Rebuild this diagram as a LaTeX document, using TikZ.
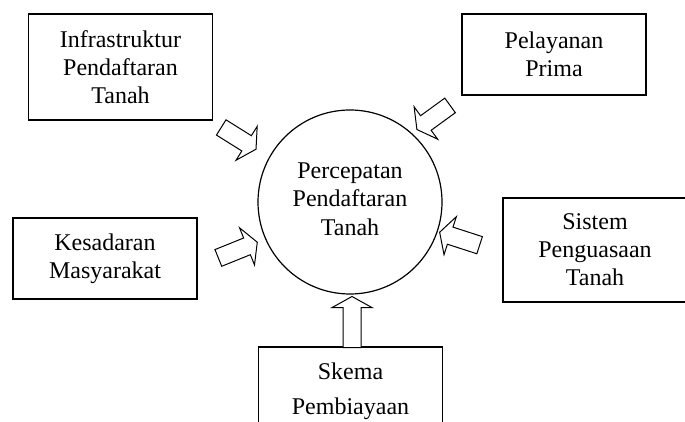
\documentclass[tikz,border=0pt]{standalone}
\usepackage{fontspec}
\setmainfont{Liberation Serif}
\usepackage{tikz}
\usetikzlibrary{
    arrows.meta,
    shapes.arrows,
    positioning
}
\tikzset{
    factorbox/.style={draw, line width=0.7pt, rectangle, align=center,
        minimum width=92pt, inner sep=0pt, font=\fontsize{12}{14}\selectfont},
    goalcircle/.style={draw, line width=0.6pt, circle, align=center,
        minimum size=92pt, inner sep=0pt, font=\fontsize{12}{14.3}\selectfont},
    blockarrow/.style={draw, line width=0.5pt, fill=white, single arrow,
        inner xsep=0pt, inner ysep=4.25pt, minimum width=0pt,
        single arrow head extend=5.5pt, single arrow tip angle=122}
}

\begin{document}
\begin{tikzpicture}[x=0.5pt, y=-0.5pt]
    % Frame of the picture
    \useasboundingbox (0,0) rectangle (685,422);
    \clip (0,0) rectangle (685,422);

    % Central goal
    \node[goalcircle] (percepatan) at (350,202) {};
    \node[font=\fontsize{12}{14.3}\selectfont, align=center] (percepatantext) at (350,199)
        {Percepatan\\Pendaftaran\\Tanah};

    % Supporting factors
    \node[factorbox, minimum height=53pt] (infrastruktur) at (120.5,67)
        {Infrastruktur\\Pendaftaran\\Tanah};
    \node[factorbox, minimum height=40.5pt] (pelayanan) at (554,54.5)
        {Pelayanan\\Prima};
    \node[factorbox, minimum height=40.5pt] (kesadaran) at (105,258.5)
        {Kesadaran\\Masyarakat};
    \node[factorbox, minimum height=52pt] (sistem) at (595,250)
        {Sistem\\Penguasaan\\Tanah};
    \node[factorbox, minimum height=44pt, font=\fontsize{12}{17.5}\selectfont] (skema) at (350.5,391)
        {Skema\\Pembiayaan};

    % Block arrows towards the goal
    \foreach \px/\py/\ang/\len [count=\i] in {
        236.5/137/-32/41,
        435.5/116/-144/41,
        235.5/251/22/42,
        462/239.5/162/42,
        352/324.5/90/51} {
        \node[blockarrow, rotate=\ang, minimum height=\len*0.5pt] (arrow\i) at (\px,\py) {};
    }
\end{tikzpicture}
\end{document}
